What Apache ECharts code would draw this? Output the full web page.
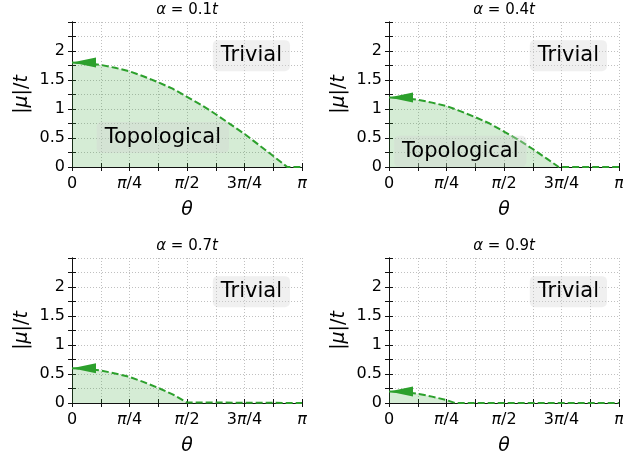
<!DOCTYPE html>
<html>
<head>
<meta charset="utf-8">
<script src="https://cdn.jsdelivr.net/npm/echarts@6/dist/echarts.min.js"></script>
<style>
  html, body { margin: 0; padding: 0; background: #fff; }
  #container { width: 623px; height: 458px; }
</style>
</head>
<body>
<div id="container"></div>
<script>
var dom = document.getElementById('container');
var myChart = echarts.init(dom, null, { renderer: 'canvas' });

// panel titles (alpha in units of t)
var alphas = ['0.1', '0.4', '0.7', '0.9'];

// theta in units of pi, |mu|/t
var curve01 = [[0, 1.80], [0.0625, 1.79], [0.125, 1.76], [0.1875, 1.71], [0.25, 1.65], [0.3125, 1.56],
    [0.375, 1.46], [0.4375, 1.35], [0.5, 1.21], [0.5625, 1.07], [0.625, 0.91], [0.6875, 0.74],
    [0.75, 0.57], [0.8125, 0.38], [0.875, 0.19], [0.936, 0], [1, 0]];
var curve04 = [[0, 1.20], [0.0625, 1.19], [0.125, 1.16], [0.1875, 1.11], [0.25, 1.05], [0.3125, 0.96],
    [0.375, 0.86], [0.4375, 0.75], [0.5, 0.61], [0.5625, 0.47], [0.625, 0.31], [0.6875, 0.14],
    [0.738, 0], [1, 0]];
var curve07 = [[0, 0.60], [0.0625, 0.59], [0.125, 0.56], [0.1875, 0.51], [0.25, 0.45], [0.3125, 0.36],
    [0.375, 0.26], [0.4375, 0.15], [0.5, 0.01], [0.506, 0], [1, 0]];
var curve09 = [[0, 0.20], [0.0625, 0.19], [0.125, 0.16], [0.1875, 0.11], [0.25, 0.05], [0.287, 0], [1, 0]];
var curves = [curve01, curve04, curve07, curve09];

// region labels: [theta/pi, mu/t, text]
var labels01 = [[0.78, 1.92, 'Trivial'], [0.395, 0.51, 'Topological']];
var labels04 = [[0.78, 1.92, 'Trivial'], [0.31, 0.27, 'Topological']];
var labels07 = [[0.78, 1.92, 'Trivial']];
var labels09 = [[0.78, 1.92, 'Trivial']];
var labelSets = [labels01, labels04, labels07, labels09];

var thetaTicks = { '0': '0', '0.25': '{i|π}/4', '0.5': '{i|π}/2', '0.75': '3{i|π}/4', '1': '{i|π}' };
var muTicks = ['0', '0.5', '1', '1.5', '2'];

var green = '#2ca02c';
var FONT = 'DejaVu Sans';
var boxes = [[72, 22], [389, 22], [72, 258], [389, 258]];

var grids = [], xAxes = [], yAxes = [], series = [], titles = [];

var gridLine = { show: true, lineStyle: { color: '#b0b0b0', type: [1, 2], width: 0.8 } };

boxes.forEach(function (b, i) {
    grids.push({ left: b[0], top: b[1], width: 230, height: 145, outerBoundsMode: 'none', containLabel: false });
    titles.push({
        text: '{i|α} = ' + alphas[i] + '{i|t}',
        left: b[0] + 115, top: b[1] - 19, textAlign: 'center', padding: 0,
        textStyle: { fontFamily: FONT, fontSize: 15, fontWeight: 'normal', color: '#000',
            rich: { i: { fontFamily: FONT, fontStyle: 'italic', fontSize: 15, color: '#000' } } }
    });
    var common = {
        min: 0, axisLine: { show: true, lineStyle: { color: '#111', width: 1 } },
        axisTick: { show: true, length: 4, lineStyle: { color: '#111', width: 1 } },
        minorTick: { show: true, splitNumber: 2, length: 4, lineStyle: { color: '#111', width: 1 } }
    };
    xAxes.push(Object.assign({}, common, {
        type: 'value', gridIndex: i, max: 1, interval: 0.25, position: 'bottom',
        splitLine: gridLine, minorSplitLine: gridLine,
        name: '{i|θ}', nameLocation: 'middle', nameGap: 34,
        nameTextStyle: { fontFamily: FONT, fontSize: 19, color: '#000',
            rich: { i: { fontFamily: FONT, fontStyle: 'italic', fontSize: 19, color: '#000' } } },
        axisLabel: {
            fontFamily: FONT, fontSize: 16, color: '#000', margin: 9,
            formatter: function (v) { return thetaTicks[String(v)] || ''; },
            rich: { i: { fontFamily: FONT, fontStyle: 'italic', fontSize: 16, color: '#000' } }
        }
    }));
    xAxes.push(Object.assign({}, common, {
        type: 'value', gridIndex: i, max: 1, interval: 0.25, position: 'top',
        splitLine: { show: false }, axisLabel: { show: false }
    }));
    yAxes.push(Object.assign({}, common, {
        type: 'value', gridIndex: i, max: 2.5, interval: 0.5, position: 'left',
        splitLine: gridLine, minorSplitLine: gridLine,
        name: '|{i|μ}|/{i|t}', nameLocation: 'middle', nameGap: 40,
        nameTextStyle: { fontFamily: FONT, fontSize: 19, color: '#000',
            rich: { i: { fontFamily: FONT, fontStyle: 'italic', fontSize: 19, color: '#000' } } },
        axisLabel: {
            fontFamily: FONT, fontSize: 16, color: '#000', margin: 7,
            formatter: function (v) { var k = Math.round(v * 2); return k < muTicks.length ? muTicks[k] : ''; }
        }
    }));
    yAxes.push(Object.assign({}, common, {
        type: 'value', gridIndex: i, max: 2.5, interval: 0.5, position: 'right',
        splitLine: { show: false }, axisLabel: { show: false }
    }));

    var pts = curves[i].map(function (p, k) {
        if (k === 0) {
            return { value: p, symbol: 'path://M0,5L10,0L10,10Z', symbolSize: [24, 10],
                symbolOffset: [12, 0], itemStyle: { color: green } };
        }
        return p;
    });
    series.push({
        type: 'line', xAxisIndex: 2 * i, yAxisIndex: 2 * i, data: pts,
        symbol: 'none', showSymbol: true, smooth: false, silent: true, z: 3,
        lineStyle: { color: green, width: 2, type: [7, 3] },
        areaStyle: { color: 'rgba(44,160,44,0.2)', opacity: 1 }
    });
    series.push({
        type: 'scatter', xAxisIndex: 2 * i, yAxisIndex: 2 * i, symbolSize: 0, z: 4, silent: true,
        data: labelSets[i].map(function (l) { return { value: [l[0], l[1]], name: l[2] }; }),
        label: {
            show: true, position: 'inside', formatter: '{b}',
            fontFamily: FONT, fontSize: 21, color: '#000', opacity: 1,
            backgroundColor: 'rgba(211,211,211,0.35)', borderRadius: 5, padding: [6, 8, 4, 8]
        }
    });
});

var option = {
    animation: false,
    backgroundColor: '#fff',
    title: titles,
    grid: grids,
    xAxis: xAxes,
    yAxis: yAxes,
    series: series
};
myChart.setOption(option);
</script>
</body>
</html>
